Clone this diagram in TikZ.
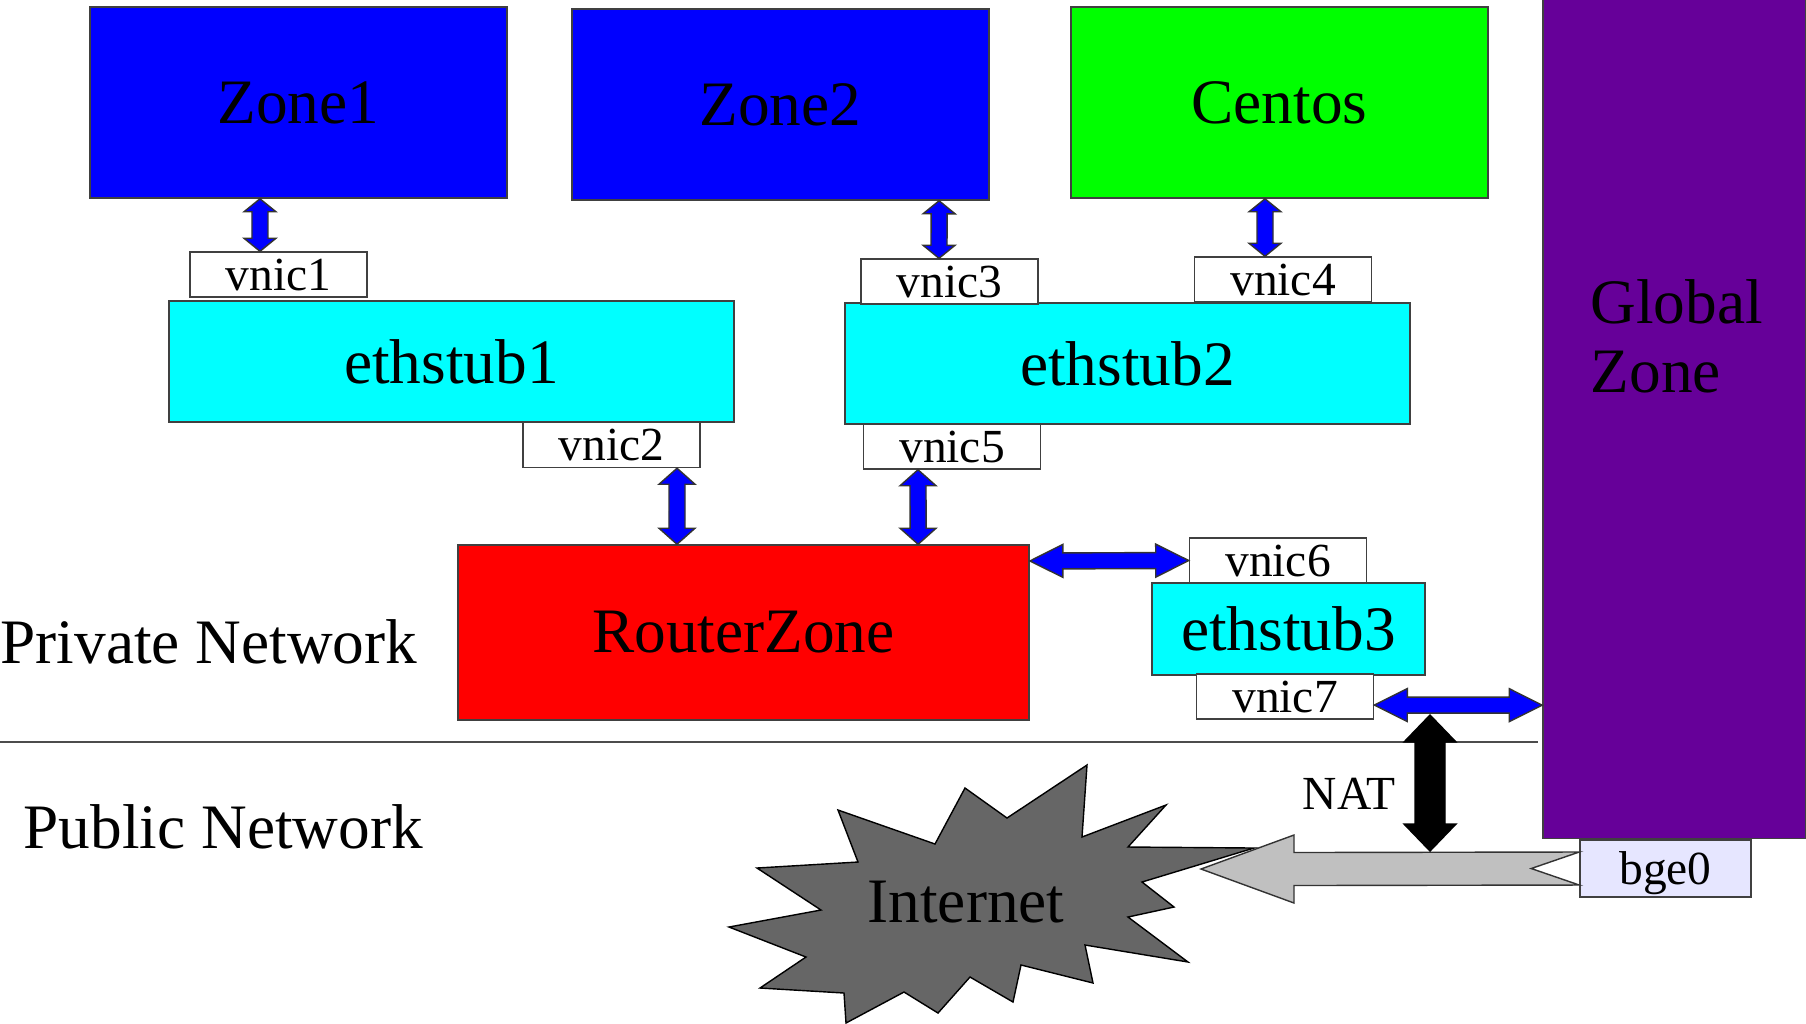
\documentclass[tikz,border=0pt]{standalone}
\usepackage{fontspec}
\setmainfont{Liberation Serif}
\usetikzlibrary{calc}
\definecolor{zoneblue}{RGB}{0,0,255}
\definecolor{centosgreen}{RGB}{0,255,0}
\definecolor{stubcyan}{RGB}{0,255,255}
\definecolor{routerred}{RGB}{255,0,0}
\definecolor{globalpurple}{RGB}{102,0,153}
\definecolor{bgelilac}{RGB}{230,230,255}
\definecolor{netgray}{RGB}{102,102,102}
\definecolor{pathgray}{RGB}{192,192,192}
% point along the arrow axis: distance, offset
\newcommand\arpt[2]{({\x1+(#1)*(\n2)-(#2)*(\n3)},{\y1+(#1)*(\n3)+(#2)*(\n2)})}
% fat arrow with two heads: style, from, to, half shaft, half head, head length
\newcommand\dblarrow[6]{%
  \path[#1] let \p1=(#2), \p2=(#3), \n1={veclen(\x2-\x1,\y2-\y1)},
    \n2={(\x2-\x1)/\n1}, \n3={(\y2-\y1)/\n1}, \n4={\n1-#6} in
    \arpt{0pt}{0pt} -- \arpt{#6}{#5} -- \arpt{#6}{#4} -- \arpt{\n4}{#4} -- \arpt{\n4}{#5}
    -- \arpt{\n1}{0pt} -- \arpt{\n4}{-#5} -- \arpt{\n4}{-#4} -- \arpt{#6}{-#4} -- \arpt{#6}{-#5} -- cycle;}
\begin{document}
\begin{tikzpicture}[x=0.01cm,y=-0.01cm,
    bigtext/.style={font=\fontsize{18}{19.6}\selectfont},
    smalltext/.style={font=\fontsize{13.5}{15}\selectfont},
    box/.style={draw=black!75,line width=0.4pt,inner sep=0pt},
    zonebox/.style={box,bigtext,fill=zoneblue,minimum width=4.17cm,minimum height=1.91cm},
    stubbox/.style={box,bigtext,fill=stubcyan,minimum width=5.65cm,minimum height=1.21cm},
    nicbox/.style={box,smalltext,fill=white,minimum width=1.77cm,minimum height=0.45cm},
    bluearrow/.style={draw=black!80,fill=zoneblue,line width=0.4pt},
    natarrow/.style={draw=black,fill=black,line width=0.4pt},
    grayarrow/.style={draw=black!80,fill=pathgray,line width=0.4pt},
    sepline/.style={draw=black!70,line width=0.6pt}]
  \useasboundingbox (0,0) rectangle (1806,1023);
  \node[zonebox] at (298.5,102.5) (zone1) {Zone1};
  \node[zonebox] at (780.5,104.5) (zone2) {Zone2};
  \node[zonebox,fill=centosgreen] at (1279.5,102.5) (centos) {Centos};
  \node[box,fill=globalpurple,minimum width=2.63cm,minimum height=8.38cm,
    label={[bigtext,anchor=north west,align=left,inner sep=0pt,xshift=-0.845cm,yshift=-2.8cm]90:Global\\Zone}]
    at (1674.5,419) (global) {};
  \node[stubbox] at (451.5,361.5) (ethstub1) {ethstub1};
  \node[stubbox] at (1127.5,363.5) (ethstub2) {ethstub2};
  \node[stubbox,minimum width=2.73cm,minimum height=0.92cm] at (1288.5,629) (ethstub3) {ethstub3};
  \node[box,bigtext,fill=routerred,minimum width=5.71cm,minimum height=1.75cm] at (743.5,632.5) (routerzone) {RouterZone};
  \node[nicbox] at (278.5,274.5) (vnic1) {vnic1};
  \node[nicbox] at (611.5,445) (vnic2) {vnic2};
  \node[nicbox] at (949.5,281.5) (vnic3) {vnic3};
  \node[nicbox] at (1283,279.5) (vnic4) {vnic4};
  \node[nicbox] at (952,446.5) (vnic5) {vnic5};
  \node[nicbox] at (1278,560.5) (vnic6) {vnic6};
  \node[nicbox] at (1285,696.5) (vnic7) {vnic7};
  \node[box,smalltext,text depth=0pt,fill=bgelilac,minimum width=1.71cm,minimum height=0.57cm] at (1665.5,868.5) (bge0) {bge0};
  \node[bigtext,inner sep=0pt,anchor=west] at (0,642) (private) {Private Network};
  \node[bigtext,inner sep=0pt,anchor=west] at (23,827) (public) {Public Network};
  \draw[sepline] (0,742) -- (1538,742);
  % internet cloud
  \draw[fill=netgray,line width=0.4pt] (1087,765) -- (1082,837) -- (1166,805) -- (1128,847) -- (1254,848)
    -- (1142,882) -- (1174,907) -- (1128,917) -- (1188,962) -- (1085,945) -- (1093,983) -- (1021,965)
    -- (1013,1002) -- (970,977) -- (938,1013) -- (904,992) -- (846,1023) -- (844,993) -- (760,988)
    -- (806,957) -- (729,927) -- (821,910) -- (757,868) -- (858,862) -- (838,810) -- (935,844)
    -- (965,788) -- (1007,818) -- cycle;
  \node[bigtext,inner sep=0pt] at (966,902) (internet) {Internet};
  \coordinate (inettip) at (1201,869);
  \draw[grayarrow] (inettip) -- ++(93,-34) -- ++(0,17.5) -- ([yshift=0.165cm]bge0.west)
    -- ([xshift=-0.48cm]bge0.west) -- ([yshift=-0.165cm]bge0.west) -- ($(inettip)+(93,16.5)$)
    -- ++(0,17.5) -- cycle;
  % links
  \dblarrow{bluearrow}{[xshift=-0.385cm]zone1.south}{[xshift=-0.185cm]vnic1.north}{0.08cm}{0.16cm}{0.13cm}
  \dblarrow{bluearrow}{[xshift=1.585cm]zone2.south}{[xshift=-0.105cm]vnic3.north}{0.08cm}{0.16cm}{0.13cm}
  \dblarrow{bluearrow}{[xshift=-0.145cm]centos.south}{[xshift=-0.18cm]vnic4.north}{0.08cm}{0.16cm}{0.13cm}
  \dblarrow{bluearrow}{[xshift=0.655cm]vnic2.south}{[xshift=-0.665cm]routerzone.north}{0.08cm}{0.18cm}{0.16cm}
  \dblarrow{bluearrow}{[xshift=-0.34cm]vnic5.south}{[xshift=1.745cm]routerzone.north}{0.08cm}{0.18cm}{0.16cm}
  \dblarrow{bluearrow}{[yshift=0.715cm]routerzone.east}{vnic6.west}{0.08cm}{0.165cm}{0.33cm}
  \dblarrow{bluearrow}{[yshift=-0.085cm]vnic7.east}{[yshift=-2.86cm]global.west}{0.08cm}{0.165cm}{0.33cm}
  \coordinate (nattop) at (1430,715);
  \coordinate (natbot) at (1430,851);
  \dblarrow{natarrow}{nattop}{natbot}{0.15cm}{0.26cm}{0.27cm}
  \node[smalltext,inner sep=0pt] at (1349,794) (nat) {NAT};
\end{tikzpicture}
\end{document}
